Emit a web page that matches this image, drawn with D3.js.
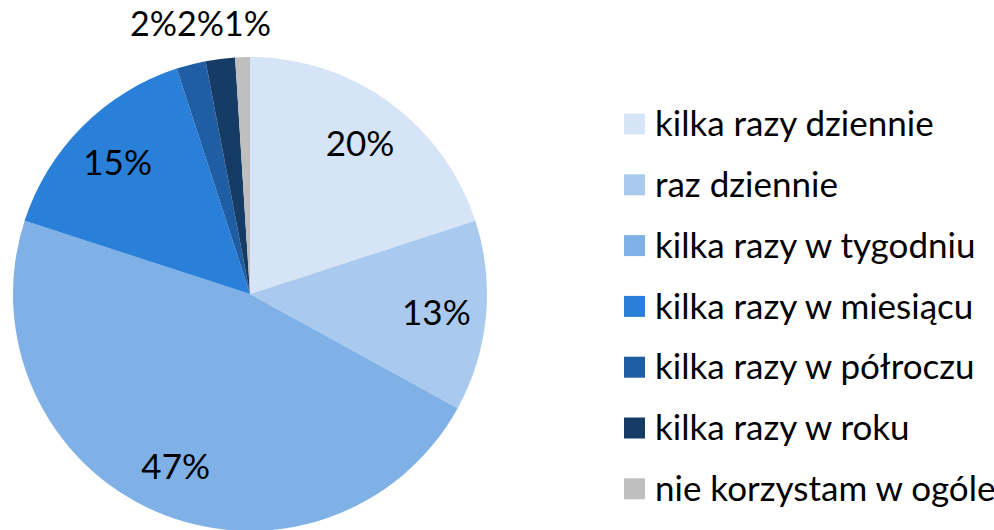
<!DOCTYPE html>
<html>
<head>
<meta charset="utf-8">
<script src="https://cdn.jsdelivr.net/npm/d3@7"></script>
<style>
  body { margin: 0; background: #fff; }
  text { font-family: Lato, "Open Sans", sans-serif; fill: #000; }
</style>
</head>
<body>
<script>
// answers and their shares (percent)
var categories = ["kilka razy dziennie", "raz dziennie", "kilka razy w tygodniu",
  "kilka razy w miesiącu", "kilka razy w półroczu", "kilka razy w roku", "nie korzystam w ogóle"];
var values = [20, 13, 47, 15, 2, 2, 1];
var colors = ["#d5e4f6", "#a9caee", "#7fb1e7", "#2a80d9", "#1f5ea2", "#163b65", "#bfbfbf"];

var width = 994, height = 530;
var cx = 250, cy = 294, radius = 237;

var svg = d3.select("body").append("svg")
  .attr("width", width)
  .attr("height", height);

var data = categories.map(function(c, i) { return { name: c, value: values[i], color: colors[i] }; });

var pie = d3.pie().sort(null).value(function(d) { return d.value; });
var arcs = pie(data);
var arc = d3.arc().innerRadius(0).outerRadius(radius);
var labelArc = d3.arc().innerRadius(radius * 0.79).outerRadius(radius * 0.79);

var g = svg.append("g").attr("transform", "translate(" + cx + "," + cy + ")");

g.selectAll("path").data(arcs).enter().append("path")
  .attr("d", arc)
  .attr("fill", function(d) { return d.data.color; });

// big slices get their label inside
var inside = arcs.filter(function(d) { return d.data.value >= 5; });
g.selectAll("text.in").data(inside).enter().append("text")
  .attr("class", "in")
  .attr("x", function(d) { return labelArc.centroid(d)[0]; })
  .attr("y", function(d) { return labelArc.centroid(d)[1]; })
  .attr("text-anchor", "middle")
  .attr("dy", "0.38em")
  .style("font-size", "35px")
  .text(function(d) { return d.data.value + "%"; });

// small slices: labels above the pie, pushed left so they don't overlap
var outside = arcs.filter(function(d) { return d.data.value < 5; }).reverse();
var prev = null;
outside.forEach(function(d) {
  var mid = (d.startAngle + d.endAngle) / 2;
  var t = g.append("text")
    .attr("text-anchor", "middle")
    .style("font-size", "34px")
    .attr("y", -radius - 21)
    .text(d.data.value + "%");
  var w = t.node().getComputedTextLength();
  var x = Math.sin(mid) * radius + 5;
  if (prev) x = Math.min(x, prev.x - prev.w / 2 - w / 2);
  t.attr("x", x);
  prev = { x: x, w: w };
});

// legend
var legend = svg.append("g").attr("transform", "translate(624,124)");
var row = legend.selectAll("g").data(data).enter().append("g")
  .attr("transform", function(d, i) { return "translate(0," + (i * 60.8) + ")"; });
row.append("rect")
  .attr("x", 0).attr("y", -10.5)
  .attr("width", 21).attr("height", 21)
  .attr("fill", function(d) { return d.color; });
row.append("text")
  .attr("x", 31)
  .attr("dy", "0.35em")
  .style("font-size", "35px")
  .text(function(d) { return d.name; });
</script>
</body>
</html>
